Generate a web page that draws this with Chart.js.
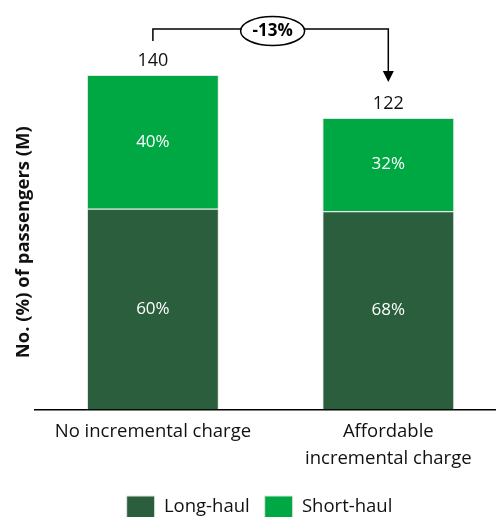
<!DOCTYPE html>
<html>
<head>
<meta charset="utf-8">
<script src="https://cdn.jsdelivr.net/npm/chart.js@4/dist/chart.umd.min.js"></script>
<style>
  html, body { margin: 0; padding: 0; background: #fff; overflow: hidden; }
  #wrap { width: 496px; height: 517px; overflow: hidden; position: relative; }
  #c { position: absolute; left: 0; top: 0; }
</style>
</head>
<body>
<div id="wrap"><canvas id="c" width="506" height="528"></canvas></div>
<script>
// Passenger volumes (millions) by scenario, split by haul type
const categories = [["No incremental charge"], ["Affordable", "incremental charge"]];
const longHaul = [84, 83];
const shortHaul = [56, 39];
const totals = [140, 122];
const longShare = ["60%", "68%"];
const shortShare = ["40%", "32%"];
const changeLabel = "-13%";

const FONT = "'Open Sans', sans-serif";
const DARK = "#2a5e3c";
const BRIGHT = "#00a844";

// Percent labels inside segments and totals above the stacks
const labelsPlugin = {
  id: "segmentLabels",
  afterDatasetsDraw(chart) {
    const ctx = chart.ctx;
    const shares = [longShare, shortShare];
    ctx.save();
    ctx.font = "17px " + FONT;
    ctx.textAlign = "center";
    ctx.textBaseline = "middle";
    ctx.fillStyle = "#fff";
    chart.data.datasets.forEach((ds, di) => {
      chart.getDatasetMeta(di).data.forEach((bar, i) => {
        const yMid = (bar.y + bar.base) / 2;
        ctx.fillText(shares[di][i], bar.x, yMid);
      });
    });
    ctx.fillStyle = "#111";
    ctx.font = "18px " + FONT;
    const topMeta = chart.getDatasetMeta(1).data;
    topMeta.forEach((bar, i) => {
      ctx.fillText(String(totals[i]), bar.x, bar.y - 14);
    });
    ctx.restore();
  }
};

// Bracket with arrow showing the change between the two totals
const changePlugin = {
  id: "changeBracket",
  afterDatasetsDraw(chart) {
    const ctx = chart.ctx;
    const bars = chart.getDatasetMeta(1).data;
    const a = bars[0], b = bars[1];
    const lineY = a.y - 46;
    const startY = a.y - 34;
    const tipY = b.y - 36;
    ctx.save();
    ctx.strokeStyle = "#000";
    ctx.lineWidth = 1.5;
    ctx.beginPath();
    ctx.moveTo(a.x, startY);
    ctx.lineTo(a.x, lineY);
    ctx.lineTo(b.x, lineY);
    ctx.lineTo(b.x, tipY - 10);
    ctx.stroke();
    ctx.fillStyle = "#000";
    ctx.beginPath();
    ctx.moveTo(b.x - 5.5, tipY - 11);
    ctx.lineTo(b.x + 5.5, tipY - 11);
    ctx.lineTo(b.x, tipY);
    ctx.closePath();
    ctx.fill();
    const cx = (a.x + b.x) / 2 + 2;
    const cy = lineY + 2;
    ctx.beginPath();
    ctx.ellipse(cx, cy, 32, 14.5, 0, 0, Math.PI * 2);
    ctx.fillStyle = "#fff";
    ctx.fill();
    ctx.stroke();
    ctx.fillStyle = "#000";
    ctx.font = "bold 17px " + FONT;
    ctx.textAlign = "center";
    ctx.textBaseline = "middle";
    ctx.fillText(changeLabel, cx, cy);
    ctx.restore();
  }
};

new Chart(document.getElementById("c"), {
  type: "bar",
  data: {
    labels: categories,
    datasets: [
      { label: "Long-haul", data: longHaul, backgroundColor: DARK, borderColor: "#e4e4e4", borderWidth: 1,
        barPercentage: 0.56, categoryPercentage: 1 },
      { label: "Short-haul", data: shortHaul, backgroundColor: BRIGHT, borderColor: "#e4e4e4", borderWidth: 1,
        barPercentage: 0.56, categoryPercentage: 1 }
    ]
  },
  options: {
    responsive: false,
    animation: false,
    layout: { padding: { top: 75, left: 13, right: 0, bottom: 0 } },
    plugins: {
      legend: {
        position: "bottom",
        labels: {
          font: { family: FONT, size: 18.5 },
          color: "#111",
          boxWidth: 28,
          boxHeight: 22,
          padding: 15
        }
      },
      tooltip: { enabled: false }
    },
    scales: {
      x: {
        stacked: true,
        grid: { display: false, drawTicks: false },
        border: { display: true, color: "#000", width: 1.5 },
        ticks: { font: { family: FONT, size: 18.5, lineHeight: 1.5 }, color: "#111", padding: 8, maxRotation: 0 }
      },
      y: {
        stacked: true,
        min: 0,
        max: 140,
        grid: { display: false, drawTicks: false },
        border: { display: false },
        ticks: { display: false },
        title: {
          display: true,
          text: "No. (%) of passengers (M)",
          font: { family: FONT, size: 18.5, weight: "bold" },
          color: "#111",
          padding: { top: 0, bottom: 0 }
        }
      }
    }
  },
  plugins: [labelsPlugin, changePlugin]
});
</script>
</body>
</html>
